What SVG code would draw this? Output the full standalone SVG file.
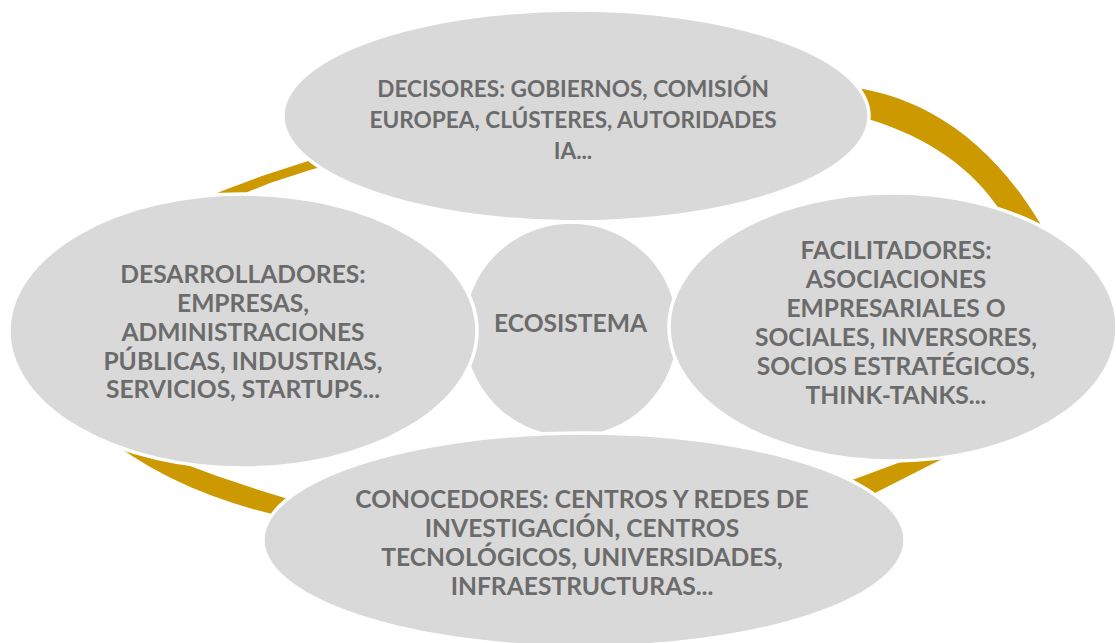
<svg xmlns="http://www.w3.org/2000/svg" width="1116" height="643" viewBox="0 0 1116 643">
  <style>
    .ring { fill: #CC9900; }
    .bubble { fill: #D9D9D9; stroke: #FFFFFF; stroke-width: 3.5; }
    .label { font-family: Lato, "Open Sans", "Liberation Sans", sans-serif; font-weight: 700; font-size: 24.6px; fill: #6B6B6B; text-anchor: middle; }
    .small { font-size: 22.6px; }
  </style>
  <rect width="1116" height="643" fill="#FFFFFF"/>

  <!-- cycle band behind the bubbles -->
  <g id="connectors">
    <path class="ring" d="M190,205 L222,191 L262,176 L302,163 L330,154 L335,163 L310,170 L270,183 L250,191 L205,210 Z"/>
    <path class="ring" d="M840,86 C915,92 995,135 1052,245 L1012,230 C975,160 910,128 845,113 Z"/>
    <path class="ring" d="M840,511 L877,492 L938,461 L980,440 L960,440 L898,463 L855,479 L830,488 Z"/>
    <path class="ring" d="M100,432 Q180,500 320,524 L310,505 Q200,475 105,430 Z"/>
  </g>

  <g id="ecosistema">
    <circle class="bubble" cx="571" cy="330" r="108"/>
    <text class="label" x="570.5" y="332">ECOSISTEMA</text>
  </g>

  <g id="decisores">
    <ellipse class="bubble" cx="576" cy="116" rx="293" ry="106"/>
    <text class="label small" x="573" y="97">DECISORES: GOBIERNOS, COMISIÓN</text>
    <text class="label small" x="573" y="128">EUROPEA, CLÚSTERES, AUTORIDADES</text>
    <text class="label small" x="573" y="159">IA...</text>
  </g>

  <g id="facilitadores">
    <ellipse class="bubble" cx="893" cy="327" rx="224" ry="134"/>
    <text class="label" x="896" y="259">FACILITADORES:</text>
    <text class="label" x="896" y="288">ASOCIACIONES</text>
    <text class="label" x="896" y="317">EMPRESARIALES O</text>
    <text class="label" x="896" y="346">SOCIALES, INVERSORES,</text>
    <text class="label" x="896" y="375">SOCIOS ESTRATÉGICOS,</text>
    <text class="label" x="896" y="404">THINK-TANKS...</text>
  </g>

  <g id="conocedores">
    <ellipse class="bubble" cx="584" cy="540" rx="321" ry="107"/>
    <text class="label" x="582" y="508">CONOCEDORES: CENTROS Y REDES DE</text>
    <text class="label" x="582" y="537">INVESTIGACIÓN, CENTROS</text>
    <text class="label" x="582" y="566">TECNOLÓGICOS, UNIVERSIDADES,</text>
    <text class="label" x="582" y="595">INFRAESTRUCTURAS...</text>
  </g>

  <g id="desarrolladores">
    <ellipse class="bubble" cx="243" cy="331" rx="234" ry="137"/>
    <text class="label" x="243" y="283">DESARROLLADORES:</text>
    <text class="label" x="243" y="312">EMPRESAS,</text>
    <text class="label" x="243" y="341">ADMINISTRACIONES</text>
    <text class="label" x="243" y="370">PÚBLICAS, INDUSTRIAS,</text>
    <text class="label" x="243" y="398">SERVICIOS, STARTUPS...</text>
  </g>
</svg>
